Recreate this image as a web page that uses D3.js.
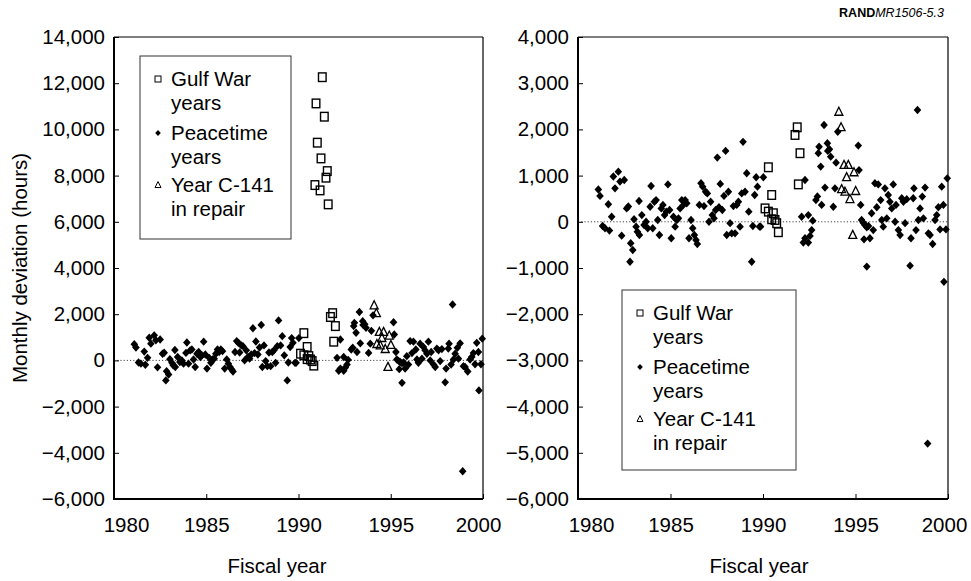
<!DOCTYPE html>
<html><head><meta charset="utf-8">
<script src="https://cdn.jsdelivr.net/npm/d3@7"></script>
<style>
body{margin:0;background:#fff;}
text{font-family:"Liberation Sans",Arial,Helvetica,sans-serif;fill:#000;}
</style></head><body>
<svg id="chart" width="971" height="581"></svg>
<script>
// ---------- data ----------
const xTicks = [1980, 1985, 1990, 1995, 2000];
const leftYTicks = [-6000, -4000, -2000, 0, 2000, 4000, 6000, 8000, 10000, 12000, 14000];
const rightYTicks = [-6000, -5000, -4000, -3000, -2000, -1000, 0, 1000, 2000, 3000, 4000];
const legendLabels = [["Gulf War", "years"], ["Peacetime", "years"], ["Year C-141", "in repair"]];
const yTitle = "Monthly deviation (hours)";
const xTitle = "Fiscal year";

// [fiscal year position, monthly deviation (hours)]
const peacetime = [
 [1981.10,700],[1981.19,560],[1981.33,-90],[1981.46,-140],[1981.64,380],[1981.70,-190],[1981.82,110],[1981.91,980],
 [1982.00,725],[1982.18,1085],[1982.27,870],[1982.36,-300],[1982.50,905],[1982.63,290],[1982.72,330],[1982.81,-865],
 [1982.85,-465],[1982.96,-610],[1983.03,55],[1983.14,-105],[1983.21,-215],[1983.32,-285],[1983.30,450],[1983.45,145],
 [1983.57,-70],[1983.68,0],[1983.77,-140],[1983.90,325],[1983.95,775],[1984.04,-140],[1984.13,435],[1984.22,470],
 [1984.31,40],[1984.40,-285],[1984.50,290],[1984.59,365],[1984.68,145],[1984.77,220],[1984.86,810],[1984.95,255],
 [1985.04,-355],[1985.16,110],[1985.25,-105],[1985.34,40],[1985.43,75],[1985.52,290],[1985.61,470],[1985.70,365],
 [1985.79,470],[1985.88,400],[1986.00,-355],[1986.11,40],[1986.20,-140],[1986.29,-285],[1986.38,-395],[1986.45,-480],
 [1986.56,365],[1986.65,835],[1986.74,760],[1986.81,340],[1986.90,650],[1986.99,615],[1987.08,0],[1987.17,435],
 [1987.26,145],[1987.35,75],[1987.44,255],[1987.53,1390],[1987.62,315],[1987.69,820],[1987.80,255],[1987.89,560],
 [1987.98,1535],[1988.04,-285],[1988.13,650],[1988.22,-30],[1988.31,-250],[1988.40,340],[1988.49,-250],[1988.58,365],
 [1988.67,435],[1988.76,-105],[1988.85,615],[1988.92,1730],[1989.03,650],[1989.12,1050],[1989.23,220],[1989.39,-865],
 [1989.45,-90],[1989.55,580],[1989.63,965],[1989.70,760],[1989.81,-105],[1989.87,-105],[1990.02,965],
 [1992.09,110],[1992.18,-450],[1992.27,-355],[1992.27,905],[1992.45,145],[1992.45,-450],[1992.54,-305],[1992.63,-180],
 [1992.69,25],[1992.86,470],[1992.94,550],[1992.99,1485],[1993.03,1625],[1993.12,1195],[1993.17,365],[1993.30,2095],
 [1993.35,740],[1993.48,1700],[1993.50,1535],[1993.59,1570],[1993.66,1410],[1993.80,325],[1993.89,725],[1993.95,1280],
 [1994.04,1950],
 [1995.15,1650],[1995.19,1120],[1995.28,365],[1995.33,40],[1995.42,-20],[1995.46,-380],[1995.51,-70],[1995.61,-120],
 [1995.61,-970],[1995.70,-90],[1995.78,-355],[1995.87,185],[1995.96,-180],[1996.05,835],[1996.15,315],[1996.23,810],
 [1996.36,470],[1996.42,40],[1996.50,-105],[1996.59,725],[1996.69,75],[1996.77,580],[1996.86,435],[1996.96,290],
 [1997.04,810],[1997.14,0],[1997.19,365],[1997.32,-180],[1997.41,-285],[1997.50,510],[1997.59,435],[1997.68,-30],
 [1997.77,490],[1997.95,-950],[1998.00,-355],[1998.12,510],[1998.16,725],[1998.27,-180],[1998.35,2420],[1998.40,40],
 [1998.49,290],[1998.61,545],[1998.67,75],[1998.76,740],[1998.90,-4800],[1998.94,-250],[1999.03,-285],[1999.17,-480],
 [1999.30,40],[1999.39,145],[1999.48,315],[1999.57,-165],[1999.66,760],[1999.75,365],[1999.78,-1300],[1999.89,-165],
 [1999.96,940]
];
const gulfWar = [
 [1990.11,290],[1990.29,1180],[1990.29,220],[1990.47,580],[1990.47,55],[1990.56,185],[1990.65,40],[1990.74,-30],[1990.83,-225],
 [1990.89,7590],[1990.95,11125],[1991.02,9425],[1991.17,7360],[1991.22,8745],[1991.29,12260],[1991.40,10550],[1991.49,7910],
 [1991.56,8195],[1991.61,6755],
 [1991.73,1880],[1991.85,2045],[1991.91,810],[1992.00,1485]
];
const repair = [
 [1994.10,2380],[1994.22,2045],[1994.25,705],[1994.38,1230],[1994.43,650],[1994.52,965],[1994.61,1230],
 [1994.70,490],[1994.85,-285],[1994.92,1070],[1995.01,665]
];

// ---------- drawing ----------
const svg = d3.select("#chart");
const FS = 20.5;
const diamondPath = s => `M0,${-s*1.1}L${s},0L0,${s*1.1}L${-s},0Z`;
const triPath = s => `M0,${-s*1.15}L${s},${s*0.85}L${-s},${s*0.85}Z`;

function panel(cfg) {
  const x = d3.scaleLinear().domain([1980, 2000]).range([cfg.x0, cfg.x1]);
  const y = d3.scaleLinear().domain(cfg.yDomain).range([cfg.yb, cfg.yt]);
  const g = svg.append("g");
  const inY = d => d[1] >= cfg.yDomain[0] && d[1] <= cfg.yDomain[1];

  // zero line
  g.append("line").attr("x1", cfg.x0).attr("x2", cfg.x1).attr("y1", y(0)).attr("y2", y(0))
    .attr("stroke", "#444").attr("stroke-width", 1).attr("stroke-dasharray", "1.2,2");

  // axes
  const ya = g.append("g").attr("transform", `translate(${cfg.x0},0)`)
    .call(d3.axisLeft(y).tickValues(cfg.yTicks).tickSizeInner(-5).tickSizeOuter(0).tickPadding(9).tickFormat(d3.format(",")));
  const xa = g.append("g").attr("transform", `translate(0,${cfg.yb})`)
    .call(d3.axisBottom(x).tickValues(xTicks).tickSizeInner(-5).tickSizeOuter(0).tickPadding(18).tickFormat(d3.format("d")));
  [ya, xa].forEach(a => {
    a.attr("font-size", FS).attr("font-family", "Liberation Sans, Arial, sans-serif");
    a.select(".domain").remove();
    a.selectAll(".tick line").attr("stroke", "#000").attr("stroke-width", 1);
  });
  xa.selectAll(".tick text").attr("dx", (d, i, n) => i === 0 ? cfg.firstShift : (i === n.length - 1 ? cfg.lastShift : 0));

  // frame
  g.append("line").attr("x1", cfg.x0).attr("x2", cfg.x1).attr("y1", cfg.yt).attr("y2", cfg.yt).attr("stroke", "#000").attr("stroke-width", 1.2);
  g.append("line").attr("x1", cfg.x1).attr("x2", cfg.x1).attr("y1", cfg.yt).attr("y2", cfg.yb).attr("stroke", "#000").attr("stroke-width", 1.2);
  g.append("line").attr("x1", cfg.x0).attr("x2", cfg.x0).attr("y1", cfg.yt).attr("y2", cfg.yb + 1).attr("stroke", "#000").attr("stroke-width", 2);
  g.append("line").attr("x1", cfg.x0 - 1).attr("x2", cfg.x1).attr("y1", cfg.yb).attr("y2", cfg.yb).attr("stroke", "#000").attr("stroke-width", 2);

  // marks
  g.append("g").selectAll("path").data(peacetime.filter(inY)).join("path")
    .attr("d", diamondPath(3.8)).attr("transform", d => `translate(${x(d[0])},${y(d[1])})`).attr("fill", "#000");
  g.append("g").selectAll("rect").data(gulfWar.filter(inY)).join("rect")
    .attr("x", d => x(d[0]) - 3.8).attr("y", d => y(d[1]) - 4.3).attr("width", 7.6).attr("height", 8.6)
    .attr("fill", "none").attr("stroke", "#000").attr("stroke-width", 1.4);
  g.append("g").selectAll("path").data(repair.filter(inY)).join("path")
    .attr("d", triPath(4)).attr("transform", d => `translate(${x(d[0])},${y(d[1])})`)
    .attr("fill", "none").attr("stroke", "#000").attr("stroke-width", 1.3);

  // legend
  const L = cfg.legend;
  const lg = g.append("g");
  lg.append("rect").attr("x", L.x).attr("y", L.y).attr("width", L.w).attr("height", L.h)
    .attr("fill", "#fff").attr("stroke", "#333").attr("stroke-width", 1);
  const rows = [L.y + 23, L.y + 77, L.y + 129];
  legendLabels.forEach((lab, i) => {
    const t = lg.append("text").attr("x", L.x + 31).attr("y", rows[i] + 7).attr("font-size", FS);
    t.append("tspan").attr("x", L.x + 31).text(lab[0]);
    t.append("tspan").attr("x", L.x + 31).attr("dy", 24).text(lab[1]);
  });
  const mx = L.x + 18;
  lg.append("rect").attr("x", mx - 3).attr("y", rows[0] - 3).attr("width", 6).attr("height", 6)
    .attr("fill", "none").attr("stroke", "#000").attr("stroke-width", 1);
  lg.append("path").attr("d", diamondPath(2.8)).attr("transform", `translate(${mx},${rows[1]})`).attr("fill", "#000");
  lg.append("path").attr("d", triPath(3)).attr("transform", `translate(${mx},${rows[2]})`)
    .attr("fill", "none").attr("stroke", "#000").attr("stroke-width", 1);

  // x title
  g.append("text").attr("x", cfg.xTitleX).attr("y", 573).attr("text-anchor", "middle").attr("font-size", FS).text(xTitle);
}

panel({x0: 114, x1: 483, yt: 37, yb: 499, yDomain: [-6000, 14000], yTicks: leftYTicks,
  firstShift: 12, lastShift: -5, xTitleX: 277,
  legend: {x: 140, y: 56, w: 151, h: 183}});
panel({x0: 578, x1: 948, yt: 37, yb: 499, yDomain: [-6000, 4000], yTicks: rightYTicks,
  firstShift: 13, lastShift: -4, xTitleX: 759,
  legend: {x: 622, y: 290, w: 174, h: 180}});

// y title
svg.append("text").attr("transform", "translate(27,268) rotate(-90)").attr("text-anchor", "middle")
  .attr("font-size", FS).text(yTitle);

// source tag
const tag = svg.append("text").attr("x", 944).attr("y", 17).attr("text-anchor", "end").attr("font-size", 12.5);
tag.append("tspan").attr("font-weight", "bold").text("RAND");
tag.append("tspan").attr("font-style", "italic").text("MR1506-5.3");
</script>
</body></html>
